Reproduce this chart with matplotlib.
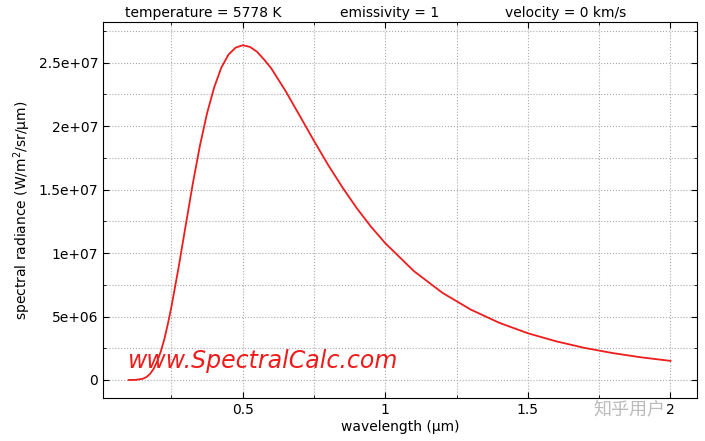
import matplotlib
matplotlib.use("Agg")
import matplotlib.pyplot as plt
from matplotlib.ticker import MultipleLocator

wavelength = [0.1, 0.125, 0.15, 0.1625, 0.175, 0.1875, 0.2, 0.2125, 0.225, 0.2375, 0.25, 0.275,
              0.3, 0.325, 0.35, 0.375, 0.4, 0.425, 0.45, 0.475, 0.5, 0.525, 0.55, 0.575, 0.6,
              0.65, 0.7, 0.75, 0.8, 0.85, 0.9, 0.95, 1.0, 1.1, 1.2, 1.3, 1.4, 1.5, 1.6, 1.7,
              1.8, 1.9, 2.0]
radiance = [0.0, 8.7e3, 9.7e4, 2.34e5, 4.8e5, 8.8e5, 1.46e6, 2.23e6, 3.2e6, 4.42e6, 5.77e6, 8.85e6,
            1.218e7, 1.548e7, 1.847e7, 2.102e7, 2.306e7, 2.461e7, 2.563e7, 2.618e7, 2.637e7,
            2.624e7, 2.586e7, 2.524e7, 2.455e7, 2.277e7, 2.081e7, 1.883e7, 1.692e7, 1.516e7,
            1.353e7, 1.207e7, 1.077e7, 8.58e6, 6.87e6, 5.54e6, 4.50e6, 3.68e6, 3.04e6, 2.52e6,
            2.11e6, 1.775e6, 1.505e6]
xticks = [0.5, 1, 1.5, 2]
xticklabels = ["0.5", "1", "1.5", "2"]
yticks = [0, 5e6, 1e7, 1.5e7, 2e7, 2.5e7]
yticklabels = ["0", "5e+06", "1e+07", "1.5e+07", "2e+07", "2.5e+07"]

plt.rcParams['font.family'] = ['DejaVu Sans', 'Noto Sans CJK SC']
fig = plt.figure(figsize=(7.05, 4.41), dpi=100)
ax = fig.add_axes([103/705, 1-398/441, 594/705, 376/441])
ax.plot(wavelength, radiance, color='#ee1c1c', lw=1.3)
ax.set_xlim(0.01, 2.093)
ax.set_ylim(-1.42e6, 2.82e7)
ax.set_xticks(xticks)
ax.set_xticklabels(xticklabels)
ax.set_yticks(yticks)
ax.set_yticklabels(yticklabels)
ax.xaxis.set_minor_locator(MultipleLocator(0.25))
ax.yaxis.set_minor_locator(MultipleLocator(2.5e6))
ax.grid(which='both', ls=':', color='#aaaaaa', lw=0.8)
ax.tick_params(which='both', direction='in', labelsize=10, length=4)
ax.tick_params(which='minor', length=2)
ax.tick_params(top=True, right=True, which='both')
ax.set_xlabel("wavelength (µm)", fontsize=10, labelpad=2)
ax.set_ylabel("spectral radiance (W/m$^2$/sr/µm)", fontsize=10)
fig.text(125/705, 1-13/441, "temperature = 5778 K", fontsize=10, va='center')
fig.text(340/705, 1-13/441, "emissivity = 1", fontsize=10, va='center')
fig.text(505/705, 1-13/441, "velocity = 0 km/s", fontsize=10, va='center')
ax.text(0.042, 0.08, "www.SpectralCalc.com", transform=ax.transAxes, color='#ee1c1c',
        fontsize=17, style='italic')
fig.text(593/705, 1-410/441, "知乎用户", fontsize=13, color='#bbbbbb', va='center',
         family=['Noto Sans CJK SC'])
fig.savefig("out.png")
